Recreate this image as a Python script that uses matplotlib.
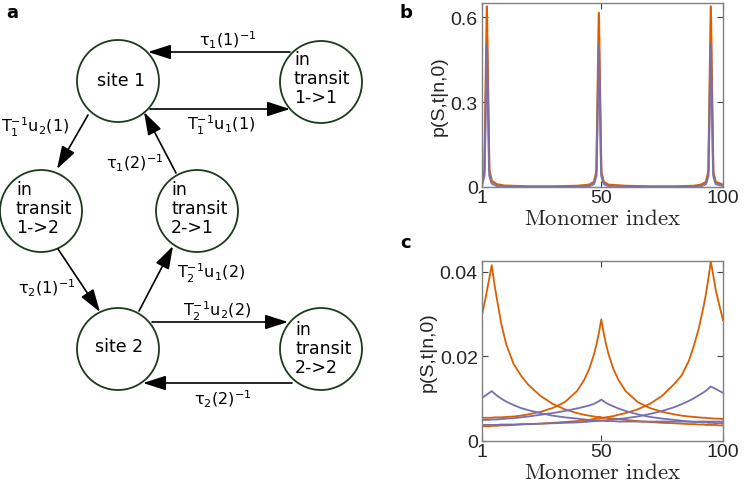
import matplotlib
matplotlib.use('Agg')
import matplotlib.pyplot as plt
import matplotlib.patches as patches

plt.rcParams['font.family'] = ['Liberation Sans', 'DejaVu Sans']

# ---- panel b: sharp peaks ----
b_x = [1, 2, 3, 4, 5, 7, 10, 20, 30, 40, 45, 47, 48, 49, 50, 51, 53, 60, 70, 80, 88, 91, 93, 94, 95, 96, 97, 100]
b_orange = [.012, .060, .638, .060, .022, .010, .005, .002, .002, .004, .008, .018, .055, .615, .055, .018,
            .008, .004, .002, .002, .004, .008, .018, .055, .638, .055, .018, .008]
b_purple = [.006, .040, .500, .040, .012, .004, .002, .001, .001, .001, .003, .010, .040, .500, .040, .010,
            .003, .001, .001, .001, .001, .003, .010, .040, .505, .040, .010, .004]

# ---- panel c: broad peaks, one curve per site ----
c_x = [1, 2, 3, 4, 5, 6, 7, 9, 11, 14, 17, 20, 25, 30, 35, 40, 43, 45, 47, 48, 49, 50,
       51, 52, 53, 55, 57, 60, 65, 70, 75, 80, 83, 86, 88, 90, 92, 93, 94, 95, 96, 97, 98, 100]
c_orange_1 = [.0298, .0325, .0355, .0385, .0416, .0375, .0340, .0275, .0228, .0182, .0155, .0133, .0107,
              .0088, .0075, .0066, .0062, .0060, .0058, .0057, .0057, .0056,
              .0055, .0055, .0054, .0053, .0052, .0050, .0047, .0045, .0043, .0042, .0041, .0040, .0040,
              .0039, .0039, .0038, .0038, .0038, .0038, .0038, .0037, .0037]
c_orange_2 = [.0055, .0055, .0055, .0055, .0055, .0056, .0056, .0056, .0057, .0058, .0060, .0063, .0069,
              .0078, .0092, .0118, .0145, .0170, .0205, .0228, .0255, .0288,
              .0255, .0228, .0205, .0170, .0145, .0118, .0092, .0078, .0069, .0063, .0060, .0058, .0057,
              .0056, .0055, .0055, .0054, .0054, .0053, .0053, .0053, .0052]
c_orange_3 = [.0035, .0035, .0035, .0035, .0036, .0036, .0036, .0037, .0037, .0038, .0039, .0040, .0041,
              .0043, .0045, .0047, .0049, .0050, .0052, .0053, .0053, .0054,
              .0055, .0056, .0057, .0059, .0062, .0066, .0075, .0088, .0107, .0135, .0155, .0190, .0225,
              .0265, .0318, .0348, .0385, .0425, .0392, .0358, .0333, .0286]
c_purple_1 = [.0102, .0106, .0110, .0114, .0118, .0113, .0108, .0100, .0093, .0085, .0078, .0073, .0066,
              .0060, .0056, .0053, .0051, .0050, .0049, .0049, .0048, .0048,
              .0048, .0047, .0047, .0047, .0046, .0046, .0046, .0046, .0046, .0046, .0046, .0046, .0046,
              .0046, .0046, .0046, .0046, .0046, .0046, .0046, .0046, .0046]
c_purple_2 = [.0050, .0050, .0050, .0050, .0051, .0051, .0051, .0052, .0053, .0054, .0056, .0058, .0062,
              .0066, .0071, .0077, .0081, .0084, .0088, .0091, .0094, .0098,
              .0094, .0090, .0087, .0082, .0077, .0071, .0063, .0057, .0053, .0050, .0048, .0046, .0045,
              .0045, .0044, .0044, .0043, .0043, .0043, .0042, .0042, .0042]
c_purple_3 = [.0038, .0038, .0038, .0038, .0038, .0038, .0038, .0039, .0039, .0039, .0040, .0040, .0041,
              .0042, .0043, .0044, .0045, .0046, .0047, .0047, .0048, .0048,
              .0049, .0049, .0050, .0051, .0052, .0054, .0058, .0064, .0071, .0080, .0087, .0095, .0101,
              .0108, .0115, .0119, .0124, .0129, .0126, .0123, .0120, .0114]

x_ticks = [1, 50, 100]
b_yticks = [0, 0.3, 0.6]
b_yticklabels = ['0', '0.3', '0.6']
c_yticks = [0, 0.02, 0.04]
c_yticklabels = ['0', '0.02', '0.04']

ORANGE = '#D95F02'
PURPLE = '#7570B3'
W, H = 745, 485

fig = plt.figure(figsize=(W / 100, H / 100), dpi=100)

# ---- panel a: state diagram, drawn in pixel units ----
ax = fig.add_axes([0, 0, 400 / W, 1])
ax.set_xlim(0, 400)
ax.set_ylim(H, 0)
ax.axis('off')

R = 41
nodes = {
    'site 1': ((118, 82), 'center', (121, 81)),
    'in\ntransit\n1->1': ((321, 83), 'left', (294, 79)),
    'in\ntransit\n1->2': ((41, 212), 'left', (16, 209)),
    'in\ntransit\n2->1': ((197, 212), 'left', (171, 209)),
    'site 2': ((118, 350), 'center', (119, 347)),
    'in\ntransit\n2->2': ((321, 350), 'left', (295, 349)),
}
for name, (c, ha, tpos) in nodes.items():
    ax.add_patch(patches.Circle(c, R, fill=False, ec='#1e3a1e', lw=1.3, clip_on=False))
    ax.text(tpos[0], tpos[1], name, ha=ha, va='center', fontsize=12.5,
            family='DejaVu Sans', linespacing=1.1)

arrows = [((290, 53), (148, 53)), ((150, 110), (290, 110)), ((88, 116), (57, 170)),
          ((176, 174), (144, 113)), ((58, 250), (100, 313)), ((139, 312), (173, 247)),
          ((152, 323), (288, 323)), ((292, 384), (143, 384))]
for start, tip in arrows:
    ax.annotate('', xy=tip, xytext=start,
                arrowprops=dict(arrowstyle='-|>,head_length=1.0,head_width=0.32', color='k',
                                lw=1.2, shrinkA=0, shrinkB=0, mutation_scale=14))

edge_labels = [(228, 40, r'$\mathregular{\tau_1(1)^{-1}}$'), (221, 125, r'$\mathregular{T_1^{-1}u_1(1)}$'),
               (35, 127, r'$\mathregular{T_1^{-1}u_2(1)}$'), (135, 163, r'$\mathregular{\tau_1(2)^{-1}}$'),
               (47, 288, r'$\mathregular{\tau_2(1)^{-1}}$'), (211, 273, r'$\mathregular{T_2^{-1}u_1(2)}$'),
               (217, 311, r'$\mathregular{T_2^{-1}u_2(2)}$'), (223, 399, r'$\mathregular{\tau_2(2)^{-1}}$')]
for x, y, s in edge_labels:
    ax.text(x, y, s, ha='center', va='center', fontsize=11.5, family='DejaVu Sans')

for lbl, px, py in [('a', 12, 13), ('b', 406, 13), ('c', 406, 243)]:
    fig.text(px / W, 1 - py / H, lbl, weight='bold', fontsize=13, ha='center', va='center',
             family='DejaVu Sans')


def style(a, yticks, ylabels, ylim):
    for s in a.spines.values():
        s.set_color('#808080')
        s.set_linewidth(1)
    a.tick_params(direction='in', length=4, width=0.8, color='#404040', top=True, right=True,
                  labelsize=14, labelcolor='#262626')
    a.tick_params(axis='x', pad=1.5)
    a.tick_params(axis='y', pad=3)
    a.set_xlim(1, 100)
    a.set_ylim(*ylim)
    a.set_xticks(x_ticks)
    a.set_xticklabels([str(t) for t in x_ticks])
    a.set_yticks(yticks)
    a.set_yticklabels(ylabels)
    a.set_ylabel('p(S,t|n,0)', fontsize=14, labelpad=2, color='#262626', family='Liberation Sans')
    a.set_xlabel(r'$\mathrm{Monomer\ index}$', fontsize=16.5, math_fontfamily='cm',
                 labelpad=0, color='#262626')


axb = fig.add_axes([482 / W, 1 - 188 / H, 241 / W, 184 / H])
axb.plot(b_x, b_orange, color=ORANGE, lw=1.6)
axb.plot(b_x, b_purple, color=PURPLE, lw=1.6, alpha=0.9)
style(axb, b_yticks, b_yticklabels, (0, 0.65))

axc = fig.add_axes([482 / W, 1 - 442 / H, 241 / W, 180 / H])
for ys in (c_orange_1, c_orange_2, c_orange_3):
    axc.plot(c_x, ys, color=ORANGE, lw=1.3)
for ys in (c_purple_1, c_purple_2, c_purple_3):
    axc.plot(c_x, ys, color=PURPLE, lw=1.3)
style(axc, c_yticks, c_yticklabels, (0, 0.0426))

fig.savefig('out.png', dpi=100)
